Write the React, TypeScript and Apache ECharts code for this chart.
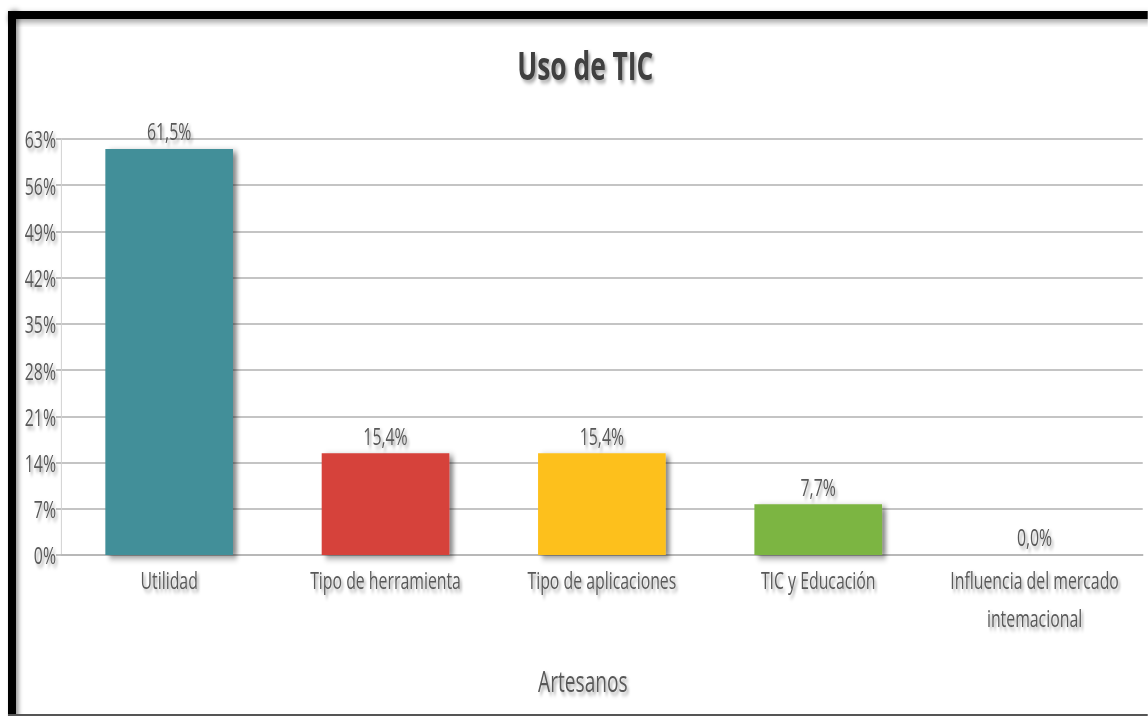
import React, { useEffect, useRef } from "react";
import * as echarts from "echarts";

const categories = [
  "Utilidad",
  "Tipo de herramienta",
  "Tipo de aplicaciones",
  "TIC y Educación",
  "Influencia del mercado\nintemacional",
];
const values = [61.5, 15.4, 15.4, 7.7, 0.0];
const barColors = ["#438f99", "#d6423a", "#fdc01b", "#7cb542", "#888888"];
const yMin = 0;
const yMax = 63;
const yStep = 7;

// The reference is horizontally condensed; render wide and squeeze.
const VIEW_W = 1148;
const VIEW_H = 716;
const SX = 0.66;
const W = VIEW_W / SX;
const px = (x: number) => x / SX;

const FONT = "'Open Sans', 'Noto Sans', sans-serif";
const textShadow = {
  textShadowColor: "rgba(0,0,0,0.35)",
  textShadowBlur: 4,
  textShadowOffsetX: 3,
  textShadowOffsetY: 3,
};

export default function App() {
  const ref = useRef<HTMLDivElement>(null);
  useEffect(() => {
    if (!ref.current) return;
    const chart = echarts.init(ref.current, undefined, { renderer: "svg" });
    chart.setOption({
      animation: false,
      backgroundColor: "#ffffff",
      title: {
        text: "Uso de TIC",
        left: px(582),
        top: 40,
        textAlign: "center",
        textStyle: {
          fontFamily: FONT,
          fontSize: 40,
          fontWeight: "bold",
          color: "#404040",
          ...textShadow,
        },
      },
      grid: { left: px(61), right: px(5), top: 139, bottom: VIEW_H - 555 },
      xAxis: {
        type: "category",
        data: categories,
        name: "Artesanos",
        nameLocation: "middle",
        nameGap: 111,
        nameTextStyle: {
          fontFamily: FONT,
          fontSize: 29,
          color: "#595959",
          padding: [0, px(38), 0, 0],
          ...textShadow,
        },
        axisLine: { lineStyle: { color: "#b8b8b8", width: 2 } },
        axisTick: { show: false },
        axisLabel: {
          interval: 0,
          margin: 6,
          fontFamily: FONT,
          fontSize: 24,
          color: "#595959",
          lineHeight: 38,
          ...textShadow,
        },
      },
      yAxis: {
        type: "value",
        min: yMin,
        max: yMax,
        interval: yStep,
        axisLine: { show: true, lineStyle: { color: "#d0d0d0", width: 1.5 } },
        axisTick: { show: true, length: px(5), lineStyle: { color: "#c0c0c0", width: 2 } },
        splitLine: { lineStyle: { color: "#c4c4c4", width: 2 } },
        axisLabel: {
          formatter: "{value}%",
          margin: px(5),
          fontFamily: FONT,
          fontSize: 24,
          color: "#595959",
          ...textShadow,
        },
      },
      series: [
        {
          type: "bar",
          barWidth: "59%",
          data: values.map((v, i) => ({
            value: v,
            itemStyle: {
              color: barColors[i],
              shadowColor: "rgba(0,0,0,0.45)",
              shadowBlur: 7,
              shadowOffsetX: 6,
              shadowOffsetY: 3,
            },
          })),
          label: {
            show: true,
            position: "top",
            distance: 6,
            formatter: (p: any) => p.value.toFixed(1).replace(".", ",") + "%",
            fontFamily: FONT,
            fontSize: 24,
            color: "#595959",
            ...textShadow,
          },
        },
      ],
      graphic: [
        { type: "rect", shape: { x: px(8), y: 11, width: W, height: 8 }, style: { fill: "#000", shadowColor: "rgba(0,0,0,0.4)", shadowBlur: 6, shadowOffsetY: 3 }, z: 100 },
        { type: "rect", shape: { x: px(8), y: 11, width: px(8), height: VIEW_H }, style: { fill: "#000", shadowColor: "rgba(0,0,0,0.4)", shadowBlur: 6, shadowOffsetX: 4 }, z: 100 },
        { type: "rect", shape: { x: px(8), y: 714, width: W, height: 2 }, style: { fill: "#555" }, z: 100 },
      ],
    });
    return () => chart.dispose();
  }, []);
  return (
    <div
      ref={ref}
      style={{
        position: "fixed",
        left: 0,
        top: 0,
        width: W,
        height: VIEW_H,
        transform: `scaleX(${SX})`,
        transformOrigin: "left top",
      }}
    />
  );
}
